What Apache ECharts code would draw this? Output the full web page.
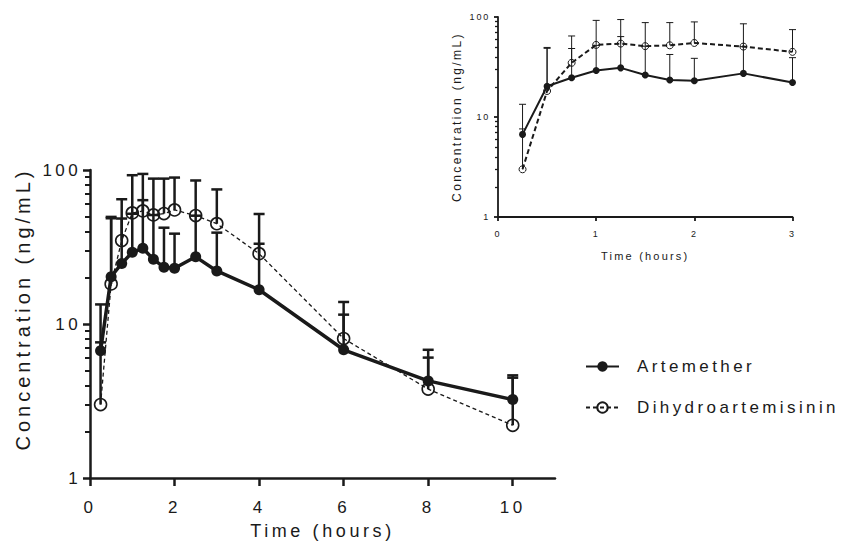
<!DOCTYPE html>
<html><head><meta charset="utf-8">
<script src="https://cdn.jsdelivr.net/npm/echarts@6/dist/echarts.min.js"></script>
<style>
html,body{margin:0;padding:0;background:#fff;}
#chart{width:847px;height:545px;}
#chart svg text{letter-spacing:0.2em;}
</style></head><body><div id="chart"></div>
<script>
// ---- data ----
const timeHours = [0.25, 0.5, 0.75, 1, 1.25, 1.5, 1.75, 2, 2.5, 3, 4, 6, 8, 10];
const artemetherMean  = [6.7, 20.3, 24.7, 29.2, 31.0, 26.3, 23.4, 23.0, 27.3, 22.1, 16.7, 6.8, 4.27, 3.23];
const artemetherUpper = [13.4, 49.6, 48.4, 52.0, 63.7, 51.0, 42.2, 38.6, 50.5, 39.2, 33.2, 11.5, 6.8, 4.64];
const dhaMean  = [3.0, 18.2, 34.8, 52.6, 54.2, 51.1, 52.1, 55.0, 50.6, 44.8, 28.6, 8.04, 3.78, 2.20];
const dhaUpper = [7.6, 48.6, 64.6, 92.5, 94.3, 87.9, 87.9, 89.3, 85.5, 74.8, 51.8, 13.9, 6.05, 4.48];
const mainXTicks = [0, 2, 4, 6, 8, 10];
const insetXTicks = [0, 1, 2, 3];
const logMajor = [1, 10, 100];
const logMinor = [2, 3, 4, 5, 6, 7, 8, 9, 20, 30, 40, 50, 60, 70, 80, 90];
const insetMaxTime = 3;
const seriesNames = ['Artemether', 'Dihydroartemisinin'];
const xName = 'Time (hours)';
const yName = 'Concentration (ng/mL)';

// ---- helpers ----
const INK = '#1a1a1a';
const FONT = '"Liberation Sans", Arial, sans-serif';
function pts(mean, limit) {
  return timeHours.map((t, i) => [t, mean[i]]).filter(p => p[0] <= limit);
}
function errs(mean, upper, limit) {
  return timeHours.map((t, i) => [t, mean[i], upper[i]]).filter(p => p[0] <= limit);
}
function errRender(lw, cw) {
  return function (params, api) {
    const x = api.value(0), y = api.value(1), hi = api.value(2);
    const p0 = api.coord([x, y]);
    const p1 = api.coord([x, hi]);
    const st = { stroke: INK, lineWidth: lw, fill: null };
    return {
      type: 'group',
      children: [
        { type: 'line', shape: { x1: p0[0], y1: p0[1], x2: p1[0], y2: p1[1] }, style: st },
        { type: 'line', shape: { x1: p1[0] - cw / 2, y1: p1[1], x2: p1[0] + cw / 2, y2: p1[1] }, style: st }
      ]
    };
  };
}
function xAxisCfg(grid, max, ticks, o) {
  return {
    gridIndex: grid, type: 'value', min: 0, max: max,
    name: xName, nameLocation: 'middle', nameGap: o.nameGap,
    nameTextStyle: { fontSize: o.nameSize, color: INK, fontFamily: FONT },
    axisLine: { show: true, onZero: false, lineStyle: { color: INK, width: o.lw } },
    axisTick: { show: true, customValues: ticks, length: o.tickLen, lineStyle: { color: INK, width: o.lw } },
    axisLabel: { customValues: ticks, fontSize: o.labelSize, margin: o.margin, color: INK, fontFamily: FONT },
    splitLine: { show: false }
  };
}
function yAxisMajor(grid, o) {
  return {
    gridIndex: grid, type: 'log', logBase: 10, min: 1, max: 100, position: 'left',
    name: yName, nameLocation: 'middle', nameGap: o.nameGap,
    nameTextStyle: { fontSize: o.nameSize, color: INK, fontFamily: FONT, padding: o.namePad },
    axisLine: { show: true, onZero: false, lineStyle: { color: INK, width: o.lw } },
    axisTick: { show: true, customValues: logMajor, length: o.tickLen, lineStyle: { color: INK, width: o.lw } },
    axisLabel: { customValues: logMajor, fontSize: o.labelSize, margin: o.margin, color: INK, fontFamily: FONT },
    splitLine: { show: false }, minorTick: { show: false }
  };
}
function yAxisMinor(grid, o) {
  return {
    gridIndex: grid, type: 'log', logBase: 10, min: 1, max: 100, position: 'left', offset: 0,
    axisLine: { show: false },
    axisTick: { show: true, customValues: logMinor, length: o.minorLen, lineStyle: { color: INK, width: o.minorW } },
    axisLabel: { show: false }, splitLine: { show: false }, minorTick: { show: false }
  };
}

const mainX = { nameGap: 44, nameSize: 18, lw: 2.5, tickLen: 8, labelSize: 17, margin: 21 };
const mainY = { nameGap: 57, nameSize: 20, lw: 2.5, tickLen: 7, labelSize: 17, margin: 9, namePad: [0, 0, 0, 30], minorLen: 5, minorW: 2 };
const insX = { nameGap: 33, nameSize: 11, lw: 1.8, tickLen: 4, labelSize: 9, margin: 12 };
const insY = { nameGap: 35, nameSize: 12, lw: 1.8, tickLen: 4, labelSize: 9, margin: 8, namePad: 0, minorLen: 3, minorW: 1.3 };

const chart = echarts.init(document.getElementById('chart'), null, { renderer: 'svg' });
chart.setOption({
  animation: false,
  backgroundColor: '#fff',
  textStyle: { fontFamily: FONT },
  grid: [
    { left: 90, top: 170, width: 465, height: 313 },
    { left: 498, top: 17, width: 294.5, height: 200 }
  ],
  legend: {
    data: seriesNames, orient: 'vertical', left: 585, top: 358, itemGap: 24, padding: 0,
    itemWidth: 33, itemHeight: 13,
    textStyle: { fontSize: 17, color: INK, fontFamily: FONT, padding: [0, 0, 0, 13] }
  },
  xAxis: [xAxisCfg(0, 11, mainXTicks, mainX), xAxisCfg(1, insetMaxTime, insetXTicks, insX)],
  yAxis: [yAxisMajor(0, mainY), yAxisMinor(0, mainY), yAxisMajor(1, insY), yAxisMinor(1, insY)],
  series: [
    { name: 'Artemether err', type: 'custom', xAxisIndex: 0, yAxisIndex: 0, z: 1,
      renderItem: errRender(2.5, 11), encode: { x: 0, y: [1, 2] }, data: errs(artemetherMean, artemetherUpper, 99) },
    { name: 'DHA err', type: 'custom', xAxisIndex: 0, yAxisIndex: 0, z: 1,
      renderItem: errRender(2.5, 11), encode: { x: 0, y: [1, 2] }, data: errs(dhaMean, dhaUpper, 99) },
    { name: seriesNames[0], type: 'line', xAxisIndex: 0, yAxisIndex: 0, z: 3,
      data: pts(artemetherMean, 99), symbol: 'circle', symbolSize: 11,
      lineStyle: { color: INK, width: 3.5 }, itemStyle: { color: INK } },
    { name: seriesNames[1], type: 'line', xAxisIndex: 0, yAxisIndex: 0, z: 2,
      data: pts(dhaMean, 99), symbol: 'circle', symbolSize: 12,
      lineStyle: { color: INK, width: 1.3, type: [4, 3] },
      itemStyle: { color: 'rgba(255,255,255,0)', borderColor: INK, borderWidth: 1.6 } },
    { name: 'Artemether inset err', type: 'custom', xAxisIndex: 1, yAxisIndex: 2, z: 1,
      renderItem: errRender(1, 7), encode: { x: 0, y: [1, 2] }, data: errs(artemetherMean, artemetherUpper, insetMaxTime) },
    { name: 'DHA inset err', type: 'custom', xAxisIndex: 1, yAxisIndex: 2, z: 1,
      renderItem: errRender(1, 7), encode: { x: 0, y: [1, 2] }, data: errs(dhaMean, dhaUpper, insetMaxTime) },
    { name: seriesNames[0], type: 'line', xAxisIndex: 1, yAxisIndex: 2, z: 3,
      data: pts(artemetherMean, insetMaxTime), symbol: 'circle', symbolSize: 7,
      lineStyle: { color: INK, width: 2 }, itemStyle: { color: INK } },
    { name: seriesNames[1], type: 'line', xAxisIndex: 1, yAxisIndex: 2, z: 2,
      data: pts(dhaMean, insetMaxTime), symbol: 'circle', symbolSize: 7,
      lineStyle: { color: INK, width: 2, type: [5, 3] },
      itemStyle: { color: 'rgba(255,255,255,0)', borderColor: INK, borderWidth: 1 } }
  ]
});
</script></body></html>
